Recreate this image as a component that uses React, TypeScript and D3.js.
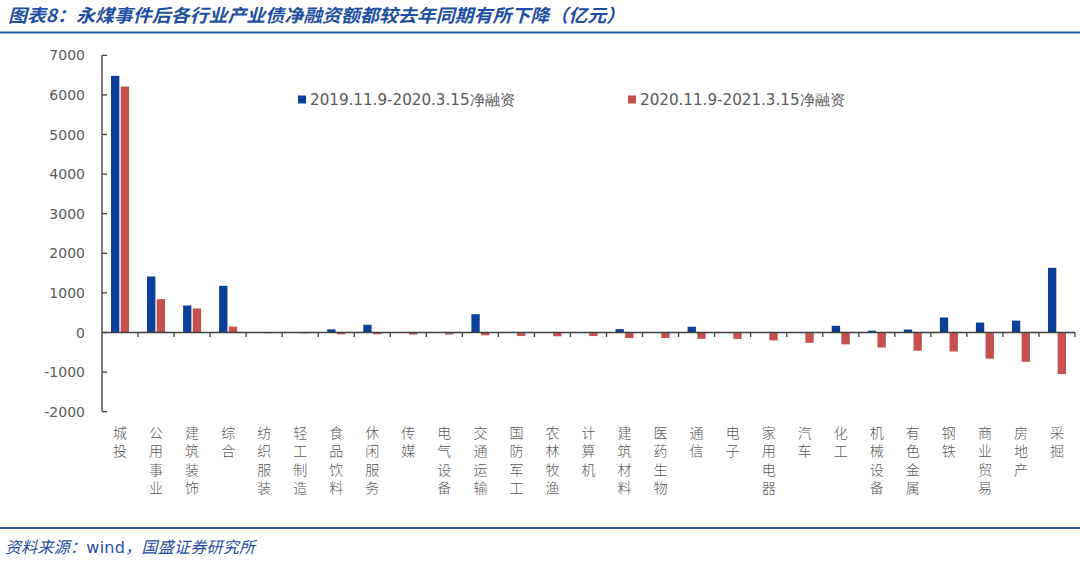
import React from "react";
import * as d3 from "d3";

const categories = ["城投","公用事业","建筑装饰","综合","纺织服装","轻工制造","食品饮料","休闲服务","传媒","电气设备","交通运输","国防军工","农林牧渔","计算机","建筑材料","医药生物","通信","电子","家用电器","汽车","化工","机械设备","有色金属","钢铁","商业贸易","房地产","采掘"];
const series2019 = [6480,1414,682,1179,5,5,80,195,5,5,462,15,5,-15,85,10,145,5,5,10,170,45,75,380,250,300,1634];
const series2020 = [6210,843,606,150,-20,-20,-45,-45,-50,-50,-70,-90,-95,-90,-140,-140,-160,-160,-200,-260,-300,-380,-460,-480,-660,-740,-1050];
const seriesNames = ["2019.11.9-2020.3.15净融资","2020.11.9-2021.3.15净融资"];
const yTicks = [-2000,-1000,0,1000,2000,3000,4000,5000,6000,7000];
const title = "图表8：永煤事件后各行业产业债净融资额都较去年同期有所下降（亿元）";
const source = "资料来源：";
const sourceMid = "wind";
const sourceEnd = "，国盛证券研究所";

const W = 1080, H = 561;
const BLUE = "#0b3f98";
const RED = "#c5504d";
const AXIS = "#404040";
const TEXT = "#595959";
const TITLE_BLUE = "#1f4fa0";

export default function App() {
  const left = 102, right = 1075, top = 55.3, bottom = 411.7;
  const y = d3.scaleLinear().domain([-2000, 7000]).range([bottom, top]);
  const x = d3.scaleBand<string>().domain(categories).range([left, right]).padding(0);
  const bw = x.bandwidth();
  const x1 = d3.scaleBand<string>().domain(["a", "b"]).range([bw * 0.25, bw * 0.75]).paddingInner(0.14);
  const y0 = y(0);
  const data = [series2019, series2020];
  const colors = [BLUE, RED];
  const tickXs = categories.map((c) => (x(c) as number) + bw);

  return (
    <div style={{ position: "absolute", left: 0, top: 0, width: W, height: H, background: "#fff" }}>
      <svg width={W} height={H} style={{ display: "block" }}>
        <rect width={W} height={H} fill="#fff" />
        {/* title */}
        <text x={8} y={22} fill={TITLE_BLUE} fontSize={18} fontStyle="italic" fontWeight={700}
          fontFamily="'Noto Sans CJK SC', sans-serif" textLength={617} lengthAdjust="spacingAndGlyphs">{title}</text>
        <line x1={0} x2={W} y1={32.5} y2={32.5} stroke="#2a58a8" strokeWidth={2} />
        {/* bars */}
        {data.map((s, si) =>
          s.map((v, i) => {
            const bx = (x(categories[i]) as number) + (x1(si === 0 ? "a" : "b") as number);
            const yv = y(v);
            return (
              <rect key={si + "-" + i} x={bx} width={x1.bandwidth()} y={Math.min(yv, y0)}
                height={Math.abs(yv - y0)} fill={colors[si]} />
            );
          })
        )}
        {/* y axis */}
        <line x1={left} x2={left} y1={top} y2={bottom} stroke={AXIS} strokeWidth={1.3} />
        {yTicks.map((t) => (
          <g key={t}>
            <line x1={left} x2={left + 5} y1={y(t)} y2={y(t)} stroke={AXIS} strokeWidth={1.3} />
            <text x={85} y={y(t)} dy="0.36em" textAnchor="end" fontSize={14} fill={TEXT}
              fontFamily="'DejaVu Sans', sans-serif">{t}</text>
          </g>
        ))}
        {/* x axis */}
        <line x1={left} x2={right} y1={y0} y2={y0} stroke={AXIS} strokeWidth={1.3} />
        {tickXs.map((tx, i) => (
          <line key={i} x1={tx} x2={tx} y1={y0} y2={y0 + 4.5} stroke={AXIS} strokeWidth={1.3} />
        ))}
        {categories.map((c) => {
          const cx = (x(c) as number) + bw / 2;
          return (
            <text key={c} fontSize={14} fill={TEXT} textAnchor="middle"
              fontFamily="'Noto Sans CJK SC', sans-serif" fontWeight={300}>
              {Array.from(c).map((ch, k) => (
                <tspan key={k} x={cx} y={438 + k * 18.3}>{ch}</tspan>
              ))}
            </text>
          );
        })}
        {/* legend */}
        {seriesNames.map((n, i) => {
          const lx = i === 0 ? 298 : 628;
          return (
            <g key={n}>
              <rect x={lx} y={95.5} width={8} height={8} fill={colors[i]} />
              <text x={lx + 12} y={99.5} dy="0.36em" fontSize={15} fill={TEXT}
                fontFamily="'DejaVu Sans', sans-serif" textLength={205} lengthAdjust="spacingAndGlyphs">{n}</text>
            </g>
          );
        })}
        {/* footer */}
        <line x1={0} x2={W} y1={528} y2={528} stroke="#2a58a8" strokeWidth={2} />
        <text x={5} y={553} fontSize={16} fill={TITLE_BLUE} fontFamily="'Noto Sans CJK SC', sans-serif"
          textLength={250} lengthAdjust="spacing">
          <tspan fontStyle="italic">{source}</tspan>
          <tspan fontFamily="'DejaVu Sans', sans-serif">{sourceMid}</tspan>
          <tspan fontStyle="italic">{sourceEnd}</tspan>
        </text>
      </svg>
    </div>
  );
}
